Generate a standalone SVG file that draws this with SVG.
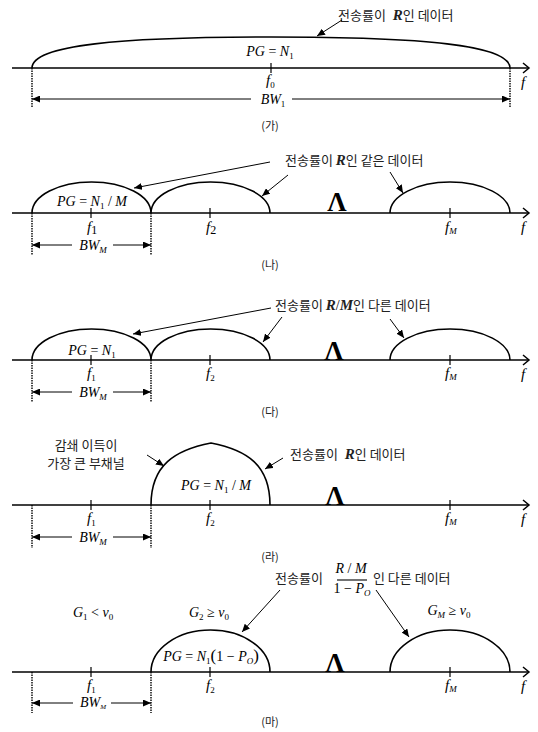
<svg xmlns="http://www.w3.org/2000/svg" width="538" height="732" viewBox="0 0 538 732">
<defs>
<marker id="ah" markerUnits="userSpaceOnUse" markerWidth="9" markerHeight="7" refX="8" refY="3.5" orient="auto"><path d="M0,0 L8,3.5 L0,7 z" fill="#000"/></marker>
</defs>
<style>
.ax{stroke:#000;stroke-width:1.5;fill:none}
.cv{stroke:#000;stroke-width:1.6;fill:none}
.dv{stroke:#000;stroke-width:1.4;stroke-dasharray:1.5 1}
.tk{stroke:#000;stroke-width:1.2}
.ld{stroke:#000;stroke-width:1;fill:none;marker-end:url(#ah)}
.m{font-family:"Liberation Serif",serif;font-size:14px;fill:#000}
.mc{font-family:"Liberation Serif",serif;font-size:14px;fill:#000;text-anchor:middle}
.i{font-style:italic}
.sb{font-size:9px}
.rb{font-family:"Liberation Serif",serif;font-style:italic;font-weight:bold;font-size:15px}
.kr{font-family:"Noto Sans CJK KR",sans-serif;font-size:13px;fill:#222}
.lam{font-family:"Liberation Serif",serif;font-weight:bold;font-size:27px;text-anchor:middle}
.cap{font-family:"Noto Sans CJK KR",sans-serif;font-size:11px;text-anchor:middle;fill:#222}
</style>
<rect width="538" height="732" fill="#fff"/>

<!-- Panel 1 -->
<g id="panel-ga">
<line class="ax" x1="12" y1="68" x2="529" y2="68"/>
<polyline class="ax" points="523,63 529,68 523,73"/>
<path class="cv" d="M32,68 C32,45 120,37 271,37 C422,37 510,45 510,68"/>
<line class="tk" x1="271" y1="63" x2="271" y2="73"/>
<line class="dv" x1="32" y1="68" x2="32" y2="108"/>
<line class="dv" x1="510" y1="68" x2="510" y2="108"/>
<text class="mc" x="270" y="56"><tspan class="i">PG</tspan> = <tspan class="i">N</tspan><tspan class="sb" dy="3">1</tspan></text>
<text class="m" x="266" y="85"><tspan class="i" font-size="15">f</tspan><tspan class="sb" dy="3">0</tspan></text>
<text class="mc" x="273" y="104"><tspan class="i">BW</tspan><tspan class="sb" dy="3">1</tspan></text>
<text class="m" x="521" y="87"><tspan class="i" font-size="15">f</tspan></text>
<text class="kr" x="338" y="20" font-size="11.5">전송률이 <tspan class="rb" dx="4">R</tspan>인 데이터</text>
<text class="cap" x="270" y="130">(가)</text>
</g>

<!-- Panel 2 -->
<g id="panel-na">
<line class="ax" x1="12" y1="213" x2="529" y2="213"/>
<polyline class="ax" points="523,208 529,213 523,218"/>
<path class="cv" d="M32,213 A59.5,31 0 0 1 151,213 A59.5,31 0 0 1 270,213"/>
<path class="cv" d="M390,213 A60,31 0 0 1 510,213"/>
<line class="tk" x1="91" y1="208" x2="91" y2="218"/>
<line class="tk" x1="210" y1="208" x2="210" y2="218"/>
<line class="tk" x1="450" y1="208" x2="450" y2="218"/>
<line class="dv" x1="32" y1="213" x2="32" y2="255"/>
<line class="dv" x1="151" y1="213" x2="151" y2="255"/>
<text class="mc" x="92" y="206"><tspan class="i">PG</tspan> = <tspan class="i">N</tspan><tspan class="sb" dy="3">1</tspan><tspan dy="-3"> / </tspan><tspan class="i">M</tspan></text>
<text class="m" x="87" y="232"><tspan class="i" font-size="15">f</tspan><tspan font-size="12" dy="2">1</tspan></text>
<text class="m" x="206" y="232"><tspan class="i" font-size="15">f</tspan><tspan font-size="12" dy="2">2</tspan></text>
<text class="m" x="445" y="232"><tspan class="i" font-size="15">f</tspan><tspan class="sb i" dy="2">M</tspan></text>
<text class="mc" x="93" y="250"><tspan class="i">BW</tspan><tspan class="sb i" dy="3">M</tspan></text>
<text class="m" x="521" y="232"><tspan class="i" font-size="15">f</tspan></text>
<text class="lam" x="337" y="211">Λ</text>
<text class="kr" x="285" y="165">전송률이 <tspan class="rb">R</tspan>인 같은 데이터</text>
<text class="cap" x="270" y="269">(나)</text>
</g>

<!-- Panel 3 -->
<g id="panel-da">
<line class="ax" x1="12" y1="360" x2="529" y2="360"/>
<polyline class="ax" points="523,355 529,360 523,365"/>
<path class="cv" d="M32,360 A59.5,31 0 0 1 151,360 A59.5,31 0 0 1 270,360"/>
<path class="cv" d="M390,360 A60,31 0 0 1 510,360"/>
<line class="tk" x1="91" y1="355" x2="91" y2="365"/>
<line class="tk" x1="210" y1="355" x2="210" y2="365"/>
<line class="tk" x1="450" y1="355" x2="450" y2="365"/>
<line class="dv" x1="32" y1="360" x2="32" y2="402"/>
<line class="dv" x1="151" y1="360" x2="151" y2="402"/>
<text class="mc" x="92" y="355"><tspan class="i">PG</tspan> = <tspan class="i">N</tspan><tspan class="sb" dy="3">1</tspan></text>
<text class="m" x="87" y="378"><tspan class="i" font-size="15">f</tspan><tspan class="sb" dy="3">1</tspan></text>
<text class="m" x="206" y="378"><tspan class="i" font-size="15">f</tspan><tspan class="sb" dy="3">2</tspan></text>
<text class="m" x="445" y="378"><tspan class="i" font-size="15">f</tspan><tspan class="sb i" dy="2">M</tspan></text>
<text class="mc" x="93" y="397"><tspan class="i">BW</tspan><tspan class="sb i" dy="3">M</tspan></text>
<text class="m" x="521" y="379"><tspan class="i" font-size="15">f</tspan></text>
<text class="lam" x="334" y="360">Λ</text>
<text class="kr" x="275" y="310">전송률이 <tspan class="rb">R</tspan><tspan class="m" font-size="15">/</tspan><tspan class="rb">M</tspan>인 다른 데이터</text>
<text class="cap" x="270" y="416">(다)</text>
</g>

<!-- Panel 4 -->
<g id="panel-ra">
<line class="ax" x1="12" y1="505" x2="529" y2="505"/>
<polyline class="ax" points="523,500 529,505 523,510"/>
<path class="cv" d="M151,505 C151,465 175,450 211,443 C247,450 270,465 270,505"/>
<line class="tk" x1="91" y1="500" x2="91" y2="510"/>
<line class="tk" x1="210" y1="500" x2="210" y2="510"/>
<line class="tk" x1="450" y1="500" x2="450" y2="510"/>
<line class="dv" x1="32" y1="505" x2="32" y2="548"/>
<line class="dv" x1="151" y1="505" x2="151" y2="548"/>
<text class="mc" x="216" y="490"><tspan class="i">PG</tspan> = <tspan class="i">N</tspan><tspan class="sb" dy="3">1</tspan><tspan dy="-3"> / </tspan><tspan class="i">M</tspan></text>
<text class="m" x="87" y="523"><tspan class="i" font-size="15">f</tspan><tspan class="sb" dy="3">1</tspan></text>
<text class="m" x="206" y="523"><tspan class="i" font-size="15">f</tspan><tspan class="sb" dy="3">2</tspan></text>
<text class="m" x="445" y="523"><tspan class="i" font-size="15">f</tspan><tspan class="sb i" dy="2">M</tspan></text>
<text class="mc" x="93" y="542"><tspan class="i">BW</tspan><tspan class="sb i" dy="3">M</tspan></text>
<text class="m" x="521" y="524"><tspan class="i" font-size="15">f</tspan></text>
<text class="lam" x="335" y="505">Λ</text>
<text class="kr" x="86" y="450" text-anchor="middle">감쇄 이득이</text>
<text class="kr" x="86" y="468" text-anchor="middle">가장 큰 부채널</text>
<text class="kr" x="290" y="459">전송률이 <tspan class="rb" dx="4">R</tspan>인 데이터</text>
<text class="cap" x="270" y="561">(라)</text>
</g>

<!-- Panel 5 -->
<g id="panel-ma">
<line class="ax" x1="12" y1="672" x2="529" y2="672"/>
<polyline class="ax" points="523,667 529,672 523,677"/>
<path class="cv" d="M151,672 A59.5,42 0 0 1 270,672"/>
<path class="cv" d="M390,672 A60,42 0 0 1 510,672"/>
<line class="tk" x1="91" y1="667" x2="91" y2="677"/>
<line class="tk" x1="210" y1="667" x2="210" y2="677"/>
<line class="tk" x1="450" y1="667" x2="450" y2="677"/>
<line class="dv" x1="32" y1="672" x2="32" y2="713"/>
<line class="dv" x1="151" y1="672" x2="151" y2="713"/>
<text class="mc" x="93" y="617"><tspan class="i">G</tspan><tspan class="sb" dy="3">1</tspan><tspan dy="-3"> &lt; </tspan><tspan class="i">ν</tspan><tspan class="sb" dy="3">0</tspan></text>
<text class="mc" x="209" y="617"><tspan class="i">G</tspan><tspan class="sb" dy="3">2</tspan><tspan dy="-3"> ≥ </tspan><tspan class="i">ν</tspan><tspan class="sb" dy="3">0</tspan></text>
<text class="mc" x="449" y="615"><tspan class="i">G</tspan><tspan class="sb i" dy="3">M</tspan><tspan dy="-3"> ≥ </tspan><tspan class="i">ν</tspan><tspan class="sb" dy="3">0</tspan></text>
<text class="mc" x="211" y="661" font-size="15"><tspan class="i">PG</tspan> = <tspan class="i">N</tspan><tspan class="sb" dy="3">1</tspan><tspan dy="-3" font-size="17">(</tspan>1 − <tspan class="i">P</tspan><tspan class="sb i" dy="3">O</tspan><tspan dy="-3" font-size="17">)</tspan></text>
<text class="m" x="87" y="690"><tspan class="i" font-size="15">f</tspan><tspan class="sb" dy="3">1</tspan></text>
<text class="m" x="206" y="690"><tspan class="i" font-size="15">f</tspan><tspan class="sb" dy="3">2</tspan></text>
<text class="m" x="445" y="690"><tspan class="i" font-size="15">f</tspan><tspan class="sb i" dy="2">M</tspan></text>
<text class="mc" x="93" y="707" font-size="11"><tspan class="i">BW</tspan><tspan class="i" font-size="7" dy="2">M</tspan></text>
<text class="m" x="521" y="691"><tspan class="i" font-size="15">f</tspan></text>
<text class="lam" x="335" y="672">Λ</text>
<text class="kr" x="275" y="583">전송률이</text>
<text class="mc" x="351" y="573"><tspan class="i">R</tspan> / <tspan class="i">M</tspan></text>
<line x1="337" y1="580" x2="367" y2="580" stroke="#000" stroke-width="1.1"/>
<text class="mc" x="352" y="593">1 − <tspan class="i">P</tspan><tspan class="sb i" dy="3">O</tspan></text>
<text class="kr" x="373" y="583">인 다른 데이터</text>
<text class="cap" x="270" y="726">(마)</text>
</g>

<g id="connectors">
<line class="ld" x1="342" y1="20" x2="317" y2="36"/>
<line class="ld" x1="251" y1="99" x2="32" y2="99"/>
<line class="ld" x1="292" y1="99" x2="510" y2="99"/>

<line class="ld" x1="270" y1="162" x2="134" y2="188"/>
<line class="ld" x1="288" y1="175" x2="262" y2="196"/>
<line class="ld" x1="390" y1="172" x2="403" y2="193"/>
<line class="ld" x1="72" y1="245" x2="32" y2="245"/>
<line class="ld" x1="113" y1="245" x2="151" y2="245"/>

<line class="ld" x1="271" y1="308" x2="133" y2="334"/>
<line class="ld" x1="282" y1="317" x2="263" y2="342"/>
<line class="ld" x1="390" y1="319" x2="404" y2="338"/>
<line class="ld" x1="72" y1="392" x2="32" y2="392"/>
<line class="ld" x1="113" y1="392" x2="151" y2="392"/>

<line class="ld" x1="147" y1="455" x2="164" y2="466"/>
<line class="ld" x1="283" y1="458" x2="265" y2="469"/>
<line class="ld" x1="72" y1="537" x2="32" y2="537"/>
<line class="ld" x1="113" y1="537" x2="151" y2="537"/>

<line class="ld" x1="280" y1="590" x2="242" y2="632"/>
<line class="ld" x1="376" y1="590" x2="409" y2="637"/>
<line class="ld" x1="73" y1="703" x2="32" y2="703"/>
<line class="ld" x1="111" y1="703" x2="151" y2="703"/>
</g>
</svg>
